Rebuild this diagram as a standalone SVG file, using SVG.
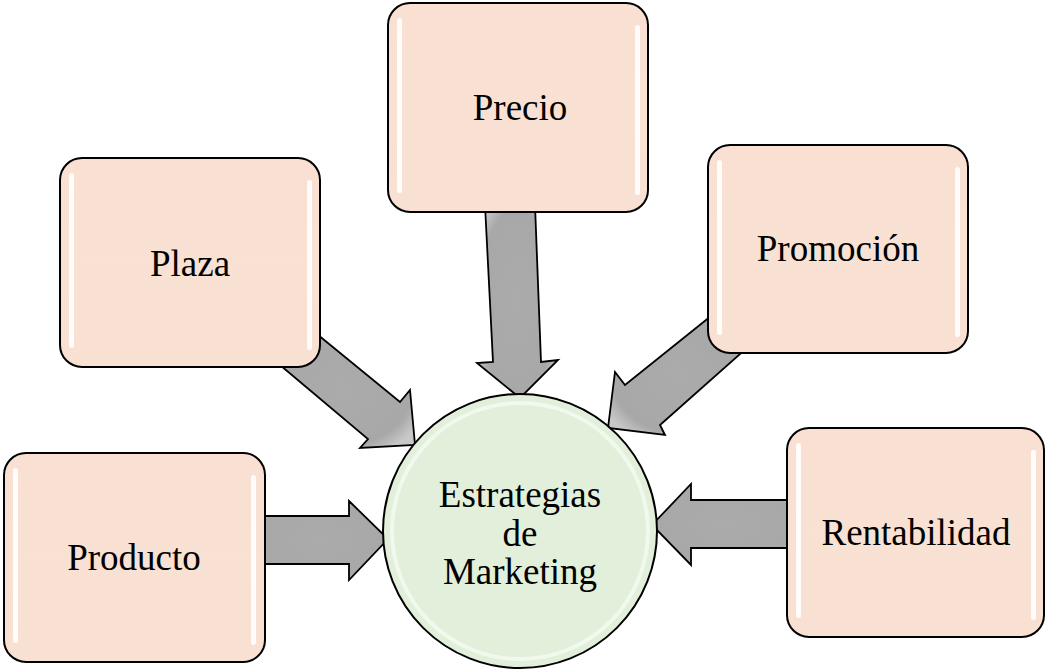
<svg xmlns="http://www.w3.org/2000/svg" width="1046" height="669" viewBox="0 0 1046 669">
<defs>
<style>
.box{fill:url(#boxg);stroke:#000;stroke-width:2}
.hl{fill:#fff;opacity:0.9}
.arr{fill:url(#arrg);stroke:#000;stroke-width:1.8;stroke-linejoin:miter}
.t{font-family:"Liberation Serif","Times New Roman",serif;font-size:37px;fill:#000;text-anchor:middle}
</style>
<linearGradient id="boxg" x1="0" y1="0" x2="0" y2="1">
<stop offset="0" stop-color="#F9E0D2"/><stop offset="1" stop-color="#F8E1D3"/>
</linearGradient>
<radialGradient id="arrg" cx="0.5" cy="0.5" r="0.6">
<stop offset="0" stop-color="#ABABAB"/><stop offset="0.8" stop-color="#A8A8A8"/><stop offset="1" stop-color="#C8C8C8"/>
</radialGradient>
</defs>
<rect width="1046" height="669" fill="#fff"/>
<g id="connectors">
<polygon class="arr" points="485,205 535,205 541,362 558,360 520,398 477,363 493,362"/>
<polygon class="arr" points="312,330 400,402 410,390 415,445 360,448 368,439 274,360"/>
<polygon class="arr" points="716,312 625,385 615,372 608,428 665,435 660,425 748,347"/>
<polygon class="arr" points="255,516 349,516 349,501 388,539 349,580 349,564 255,564"/>
<polygon class="arr" points="797,500 691,500 691,484 652,525 691,565 691,548 797,548"/>
</g>
<g id="precio">
<rect class="box" x="388" y="3" width="260" height="209" rx="22"/>
<rect class="hl" x="397" y="18" width="5" height="175" rx="2.5"/>
<rect class="hl" x="635" y="25" width="5" height="170" rx="2.5"/>
<text class="t" x="520" y="120">Precio</text>
</g>
<g id="plaza">
<rect class="box" x="60" y="158" width="260" height="209" rx="22"/>
<rect class="hl" x="69" y="173" width="5" height="175" rx="2.5"/>
<rect class="hl" x="307" y="180" width="5" height="170" rx="2.5"/>
<text class="t" x="190" y="276">Plaza</text>
</g>
<g id="promocion">
<rect class="box" x="708" y="145" width="260" height="208" rx="22"/>
<rect class="hl" x="717" y="160" width="5" height="175" rx="2.5"/>
<rect class="hl" x="955" y="167" width="5" height="170" rx="2.5"/>
<text class="t" x="838" y="261">Promoción</text>
</g>
<g id="producto">
<rect class="box" x="4" y="453" width="261" height="209" rx="22"/>
<rect class="hl" x="13" y="468" width="5" height="175" rx="2.5"/>
<rect class="hl" x="251" y="475" width="5" height="170" rx="2.5"/>
<text class="t" x="134" y="570">Producto</text>
</g>
<g id="rentabilidad">
<rect class="box" x="787" y="428" width="257" height="209" rx="22"/>
<rect class="hl" x="796" y="443" width="5" height="175" rx="2.5"/>
<rect class="hl" x="1031" y="450" width="5" height="170" rx="2.5"/>
<text class="t" x="916" y="545">Rentabilidad</text>
</g>
<g id="estrategias">
<circle cx="520" cy="531" r="137" fill="#E2EFDA" stroke="#000" stroke-width="2"/>
<circle cx="520" cy="531" r="128" fill="none" stroke="#F3F9EF" stroke-width="4" opacity="0.9"/>
<text class="t" x="520" y="507">Estrategias</text>
<text class="t" x="520" y="546">de</text>
<text class="t" x="520" y="584">Marketing</text>
</g>
</svg>
